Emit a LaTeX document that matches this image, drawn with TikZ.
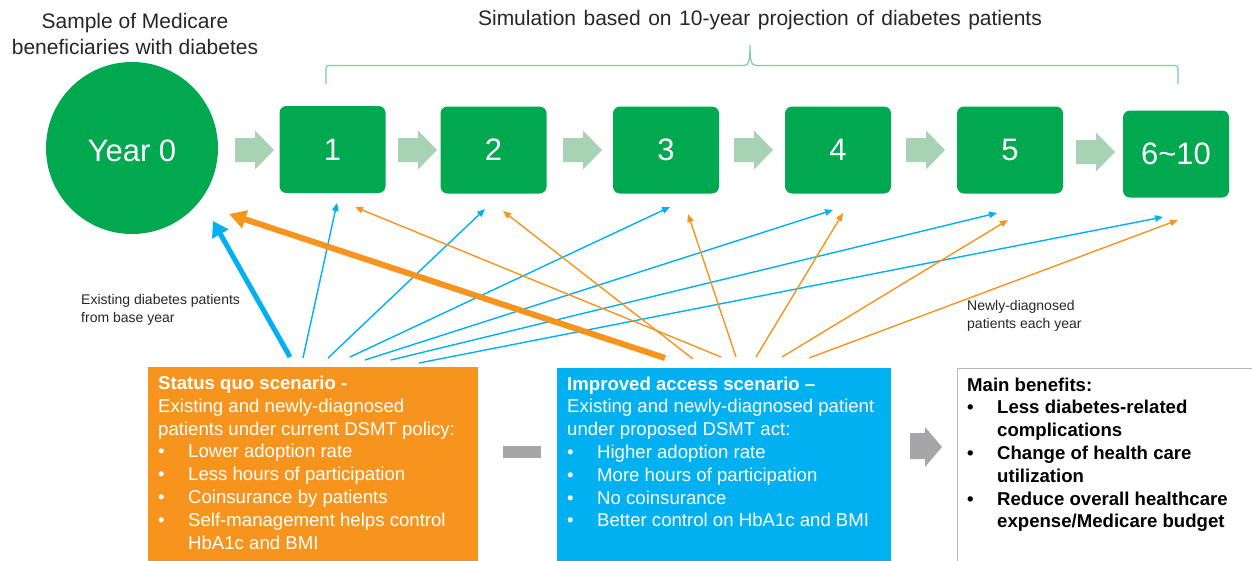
\documentclass[tikz,border=0pt]{standalone}
\usepackage{fontspec}
\setmainfont{Liberation Sans}
\usetikzlibrary{arrows.meta}

\definecolor{yeargreen}{RGB}{0,168,80}
\definecolor{stepgreen}{RGB}{168,210,180}
\definecolor{bracegreen}{RGB}{125,205,155}
\definecolor{sqorange}{RGB}{247,148,29}
\definecolor{iablue}{RGB}{0,176,240}
\definecolor{signgray}{RGB}{166,166,168}
\definecolor{inkgray}{RGB}{38,38,38}

\newcommand\bul{\makebox[30pt][l]{\textbullet}}
\newcommand\nobul{\hspace*{30pt}}
\newcommand\wsp{\hspace{7.5pt}}
% right-pointing block arrow: #1 = left x, #2 = centre y, #3 = colour
\newcommand\blockarrow[3]{%
  \fill[#3] (#1,#2-12) -- ++(20,0) -- ++(0,-7.5) -- ++(19,19.5) -- ++(-19,19.5)
            -- ++(0,-7.5) -- ++(-20,0) -- cycle;}

\begin{document}
\begin{tikzpicture}[x=1pt,y=-1pt,
  yearbox/.style={fill=yeargreen, rounded corners=7pt, text=white,
    minimum width=106pt, minimum height=87pt, inner sep=0,
    font=\fontsize{31}{31}\selectfont},
  headtext/.style={text=inkgray, inner sep=0, font=\fontsize{21}{26}\selectfont},
  notetext/.style={text=inkgray, inner sep=0, anchor=base west,
    font=\fontsize{14}{18}\selectfont},
  boxline/.style={anchor=base west, inner sep=0, text=white,
    font=\fontsize{18.6}{22}\selectfont},
  benline/.style={boxline, text=black, font=\fontsize{18.6}{22}\selectfont\bfseries},
  bluethin/.style={draw=iablue, line width=1.4pt,
    -{Triangle[length=8pt,width=6.5pt]}},
  orangethin/.style={draw=sqorange, line width=1.4pt,
    -{Triangle[length=8pt,width=6.5pt]}},
]
\useasboundingbox (0,0) rectangle (1252,560);

% headings
\node[headtext, align=center] (sample) at (135,34) {Sample of Medicare\\beneficiaries with diabetes};
\node[headtext, anchor=base] (simtitle) at (760,25) {Simulation\wsp based\wsp on\wsp 10-year\wsp projection\wsp of\wsp diabetes\wsp patients};

% brace over years 1 to 10
\draw[bracegreen, line width=1.2pt]
  (326,84) -- (326,71) .. controls (326,65.5) .. (332,65.5) -- (744,65.5)
  .. controls (749,65.5) and (750,60) .. (750,45)
  .. controls (750,60) and (751,65.5) .. (756,65.5) -- (1172,65.5)
  .. controls (1178,65.5) .. (1178,71) -- (1178,84);

% timeline
\node[circle, fill=yeargreen, minimum size=172pt, inner sep=0, text=white,
  text height=27pt, text depth=0pt,
  font=\fontsize{31}{31}\selectfont] (y0) at (132,148) {Year 0};
\node[yearbox] (b1) at (332.5,149.5) {1};
\node[yearbox] (b2) at (493.5,150) {2};
\node[yearbox] (b3) at (666,150) {3};
\node[yearbox] (b4) at (838,150) {4};
\node[yearbox] (b5) at (1010,150) {5};
\node[yearbox] (b6) at (1176,154) {6\char"007E 10};

\blockarrow{235}{150}{stepgreen}
\blockarrow{398}{150}{stepgreen}
\blockarrow{563}{150}{stepgreen}
\blockarrow{734}{150}{stepgreen}
\blockarrow{906}{150}{stepgreen}
\blockarrow{1076}{152}{stepgreen}

% scenario boxes
\node[fill=sqorange, minimum width=330pt, minimum height=195pt, inner sep=0,
  anchor=north west] (sq) at (148,367) {};
\node[fill=iablue, minimum width=334pt, minimum height=195pt, inner sep=0,
  anchor=north west] (ia) at (557,368) {};
\node[draw=signgray!80, line width=1pt, fill=white, minimum width=310pt,
  minimum height=200pt, inner sep=0, anchor=north west] (ben) at (957,368) {};

% minus sign and result arrow
\node[fill=signgray, minimum width=38pt, minimum height=12pt, inner sep=0] (minus) at (522,452) {};
\fill[signgray] (910,433) -- (925,433) -- (925,427) -- (942,447) -- (925,467)
  -- (925,459) -- (910,459) -- cycle;

% status quo text
\node[boxline] (sq1) at (158,389.5) {\bfseries Status quo scenario -};
\node[boxline] (sq2) at (158,412.3) {Existing and newly-diagnosed};
\node[boxline] (sq3) at (158,435.1) {patients under current DSMT policy:};
\node[boxline] (sq4) at (158,457.9) {\bul Lower adoption rate};
\node[boxline] (sq5) at (158,480.7) {\bul Less hours of participation};
\node[boxline] (sq6) at (158,503.5) {\bul Coinsurance by patients};
\node[boxline] (sq7) at (158,526.3) {\bul Self-management helps control};
\node[boxline] (sq8) at (158,549.1) {\nobul HbA1c and BMI};

% improved access text
\node[boxline] (ia1) at (567,390) {\bfseries Improved access scenario \textendash};
\node[boxline] (ia2) at (567,412.8) {Existing and newly-diagnosed patient};
\node[boxline] (ia3) at (567,435.6) {under proposed DSMT act:};
\node[boxline] (ia4) at (567,458.4) {\bul Higher adoption rate};
\node[boxline] (ia5) at (567,481.2) {\bul More hours of participation};
\node[boxline] (ia6) at (567,504) {\bul No coinsurance};
\node[boxline] (ia7) at (567,526.8) {\bul Better control on HbA1c and BMI};

% benefits text
\node[benline] (bn1) at (967,391) {Main benefits:};
\node[benline] (bn2) at (967,413.8) {\bul Less diabetes-related};
\node[benline] (bn3) at (967,436.6) {\nobul complications};
\node[benline] (bn4) at (967,459.4) {\bul Change of health care};
\node[benline] (bn5) at (967,482.2) {\nobul utilization};
\node[benline] (bn6) at (967,505) {\bul Reduce overall healthcare};
\node[benline] (bn7) at (967,527.8) {\nobul expense/Medicare budget};

% notes
\node[notetext] (exist1) at (81,304.5) {Existing diabetes patients};
\node[notetext] (exist2) at (81,322.5) {from base year};
\node[notetext] (newly1) at (967,310.5) {Newly-diagnosed};
\node[notetext] (newly2) at (967,328.5) {patients each year};

% connector ends
\coordinate (sqs1) at (303,358);  \coordinate (bt1) at (337,203);
\coordinate (sqs2) at (328,358);  \coordinate (bt2) at (485,209);
\coordinate (sqs3) at (350,357);  \coordinate (bt3) at (670,207);
\coordinate (sqs4) at (365,360);  \coordinate (bt4) at (833,210);
\coordinate (sqs5) at (391,360);  \coordinate (bt5) at (997,213);
\coordinate (sqs6) at (419,363);  \coordinate (bt6) at (1163,217);
\coordinate (ias1) at (721,357);  \coordinate (ot1) at (355,207);
\coordinate (ias2) at (693,359);  \coordinate (ot2) at (503,211);
\coordinate (ias3) at (736,357);  \coordinate (ot3) at (688,214);
\coordinate (ias4) at (756,357);  \coordinate (ot4) at (843,213);
\coordinate (ias5) at (782,357);  \coordinate (ot5) at (1008,220);
\coordinate (ias6) at (809,358);  \coordinate (ot6) at (1178,220);
\coordinate (sqbase) at (290,357); \coordinate (y0blue) at (213,221);
\coordinate (iabase) at (665,358); \coordinate (y0orange) at (229,214);

% status quo flows to each year
\foreach \i in {1,...,6} \draw[bluethin] (sqs\i) -- (bt\i);
% improved access flows to each year
\foreach \i in {1,...,6} \draw[orangethin] (ias\i) -- (ot\i);

% base-year flows
\draw[draw=iablue, line width=5pt, -{Triangle[length=15pt,width=18pt]}] (sqbase) -- (y0blue);
\draw[draw=sqorange, line width=6pt, -{Triangle[length=17pt,width=18pt]}] (iabase) -- (y0orange);
\end{tikzpicture}
\end{document}
